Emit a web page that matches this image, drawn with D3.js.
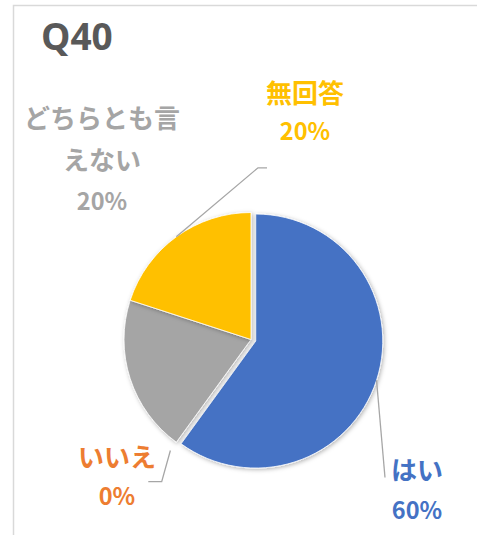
<!DOCTYPE html>
<html>
<head>
<meta charset="utf-8">
<script src="https://cdn.jsdelivr.net/npm/d3@7"></script>
<style>
  html, body { margin: 0; padding: 0; background: #fff; }
  svg { display: block; }
  text { font-family: "Noto Sans CJK JP", "Noto Sans", sans-serif; font-weight: bold; }
</style>
</head>
<body>
<svg id="chart" width="477" height="535"></svg>
<script>
// Survey answers for Q40
const title = "Q40";
const categories = ["はい", "いいえ", "どちらとも言えない", "無回答"];
const values = [60, 0, 20, 20];
const percentLabels = ["60%", "0%", "20%", "20%"];
const colors = ["#4472C4", "#ED7D31", "#A5A5A5", "#FFC000"];

// Label text lines (category name wraps onto several lines)
const labelLines = [["はい"], ["いいえ"], ["どちらとも言", "えない"], ["無回答"]];

const W = 477, H = 535;
const cx = 251, cy = 339.5, R = 127;
const explode = [5, 0, 0, 0];

// Label layout: centre x, first-line centre y, line step
const labelPos = [
  { x: 417, y: 468.5, step: 40 },
  { x: 117, y: 455, step: 40 },
  { x: 102, y: 116.7, step: 41.7 },
  { x: 305, y: 91.3, step: 38.7 }
];
// Leader lines: start radius factor, elbow point, end point (null = no leader)
const leaders = [
  { r0: 1.0, elbow: null, end: [385, 477.5] },
  { r0: 1.08, elbow: [161.7, 481.7], end: [148.3, 481.7] },
  null,
  { r0: 1.0, elbow: [258, 167.8], end: [267, 167.8] }
];

const svg = d3.select("#chart");

// Chart area frame
svg.append("rect")
  .attr("x", 13.5).attr("y", 5.5)
  .attr("width", W + 20).attr("height", H + 20)
  .attr("fill", "none")
  .attr("stroke", "#D9D9D9")
  .attr("stroke-width", 1.5);

// Soft outer shadow for slices
const defs = svg.append("defs");
const f = defs.append("filter").attr("id", "shadow")
  .attr("x", "-20%").attr("y", "-20%").attr("width", "140%").attr("height", "140%");
f.append("feDropShadow")
  .attr("dx", 1.2).attr("dy", 1.2).attr("stdDeviation", 2)
  .attr("flood-color", "#000").attr("flood-opacity", 0.3);

// Title
svg.append("text")
  .attr("x", 41).attr("y", 50)
  .attr("fill", "#595959")
  .attr("font-size", 37)
  .style("font-family", "'Open Sans', 'Noto Sans', sans-serif")
  .text(title);

const data = categories.map((c, i) => ({ name: c, value: values[i], i }));
const pie = d3.pie().sort(null).value(d => d.value).startAngle(0).endAngle(2 * Math.PI);
const arcs = pie(data);
const arc = d3.arc().innerRadius(0).outerRadius(R);

const offset = a => {
  const m = (a.startAngle + a.endAngle) / 2;
  const e = explode[a.data.i];
  return [Math.sin(m) * e, -Math.cos(m) * e];
};

const g = svg.append("g").attr("transform", `translate(${cx},${cy})`);

g.selectAll("path.slice")
  .data(arcs.filter(a => a.value > 0))
  .join("path")
  .attr("class", "slice")
  .attr("d", arc)
  .attr("transform", a => `translate(${offset(a)})`)
  .attr("fill", a => colors[a.data.i])
  .attr("stroke", "#fff")
  .attr("stroke-width", 0.8)
  .attr("filter", "url(#shadow)");

// Leader lines
arcs.forEach(a => {
  const L = leaders[a.data.i];
  if (!L) return;
  const m = (a.startAngle + a.endAngle) / 2;
  const [ox, oy] = offset(a);
  const sx = cx + ox + Math.sin(m) * R * L.r0;
  const sy = cy + oy - Math.cos(m) * R * L.r0;
  const pts = [[sx, sy]];
  if (L.elbow) pts.push(L.elbow);
  pts.push(L.end);
  svg.append("path")
    .attr("d", d3.line()(pts))
    .attr("fill", "none")
    .attr("stroke", "#A6A6A6")
    .attr("stroke-width", 1.3);
});

// Data labels: category name lines, then the percentage
arcs.forEach(a => {
  const i = a.data.i;
  const p = labelPos[i];
  const lines = labelLines[i].map(t => ({ t, size: 26 }))
    .concat([{ t: percentLabels[i], size: 23.5 }]);
  const t = svg.append("text")
    .attr("text-anchor", "middle")
    .attr("fill", colors[i]);
  lines.forEach((ln, k) => {
    t.append("tspan")
      .attr("x", p.x)
      .attr("y", p.y + k * p.step)
      .attr("font-size", ln.size)
      .attr("dominant-baseline", "central")
      .text(ln.t);
  });
});
</script>
</body>
</html>
